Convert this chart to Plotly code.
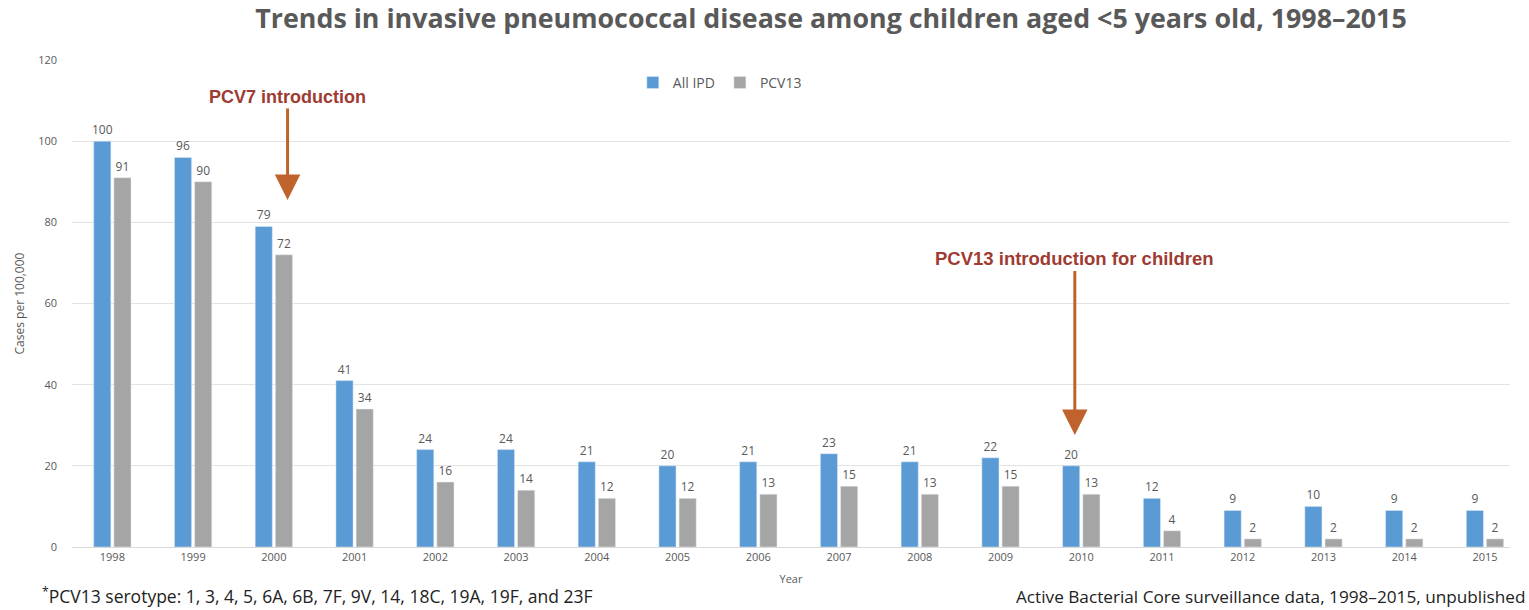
import plotly.graph_objects as go

# Invasive pneumococcal disease, children <5 years, cases per 100,000
years = [str(y) for y in range(1998, 2016)]
all_ipd = [100, 96, 79, 41, 24, 24, 21, 20, 21, 23, 21, 22, 20, 12, 9, 10, 9, 9]
pcv13 = [91, 90, 72, 34, 16, 14, 12, 12, 13, 15, 13, 15, 13, 4, 2, 2, 2, 2]
y_ticks = [0, 20, 40, 60, 80, 100, 120]

BLUE = "#5B9BD5"
GREY = "#A5A5A5"
TEXT = "#595959"
ARROW = "#C0622B"
NOTE = "#9E3B33"

fig = go.Figure()
for name, vals, col in [("All IPD", all_ipd, BLUE), ("PCV13", pcv13, GREY)]:
    fig.add_trace(go.Bar(
        x=years, y=vals, name=name, marker_color=col,
        text=vals, texttemplate="%{text}", textposition="outside",
        constraintext="none",
        textfont=dict(size=12, color=TEXT, family="Open Sans"),
        cliponaxis=False,
    ))

# Vaccine introduction markers: label sits at the arrow tail, arrow points down
fig.add_annotation(x=2.17, y=85.5, xref="x", yref="y", ax=0, ay=-103,
                   text="<b>PCV7 introduction</b>",
                   font=dict(size=18, color=NOTE, family="Liberation Sans"),
                   showarrow=True, arrowhead=2, arrowsize=1.7, arrowwidth=3, arrowcolor=ARROW)
fig.add_annotation(x=11.92, y=27.6, xref="x", yref="y", ax=0, ay=-176,
                   text="<b>PCV13 introduction for children</b>",
                   font=dict(size=18.5, color=NOTE, family="Liberation Sans"),
                   showarrow=True, arrowhead=2, arrowsize=1.7, arrowwidth=3, arrowcolor=ARROW)

# Footnotes
fig.add_annotation(x=-0.0223, y=-0.1, xref="paper", yref="paper", xanchor="left", yanchor="middle",
                   text="<sup>*</sup>PCV13 serotype: 1, 3, 4, 5, 6A, 6B, 7F, 9V, 14, 18C, 19A, 19F, and 23F",
                   showarrow=False, font=dict(size=17.5, color="#222222", family="Open Sans"))
fig.add_annotation(x=1.0118, y=-0.102, xref="paper", yref="paper", xanchor="right", yanchor="middle",
                   text="Active Bacterial Core surveillance data, 1998–2015, unpublished",
                   showarrow=False, font=dict(size=17.2, color="#222222", family="Open Sans"))

fig.update_layout(
    width=1529, height=610,
    margin=dict(l=72, r=19, t=60, b=63),
    paper_bgcolor="white", plot_bgcolor="white",
    barmode="group", bargap=0.5, bargroupgap=0.15,
    title=dict(text="<b>Trends in invasive pneumococcal disease among children aged &lt;5 years old, 1998–2015</b>",
               x=0.5435, xanchor="center", y=0.97, yanchor="middle",
               font=dict(size=26.8, color=TEXT, family="Open Sans")),
    legend=dict(orientation="h", x=0.39, y=0.953, xanchor="left", yanchor="middle",
                font=dict(size=14, color=TEXT, family="Open Sans"), bgcolor="rgba(0,0,0,0)"),
    xaxis=dict(range=[-0.5, 17.31], showline=True, linecolor="#D9D9D9", ticks="",
               tickfont=dict(size=11, color=TEXT, family="Open Sans"),
               title=dict(text="Year", standoff=12, font=dict(size=11, color=TEXT, family="Open Sans"))),
    yaxis=dict(range=[0, 120], tickvals=y_ticks, showgrid=True, gridcolor="#E3E3E3",
               zeroline=False, ticks="", ticklabelstandoff=14,
               tickfont=dict(size=11, color=TEXT, family="Open Sans"),
               title=dict(text="Cases per 100,000", standoff=10,
                          font=dict(size=12, color=TEXT, family="Open Sans"))),
)

fig.write_html("out.html")
